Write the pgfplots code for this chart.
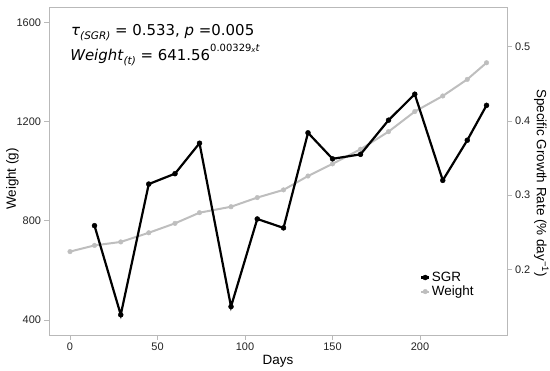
\documentclass[border=0pt]{standalone}
\usepackage{pgfplots}
\pgfplotsset{compat=1.18}
\usepackage{fontspec}
\setmainfont{Liberation Sans}
\newfontfamily\dv{DejaVu Sans}
\definecolor{axgray}{RGB}{185,185,185}
\definecolor{wgray}{RGB}{190,190,190}
\definecolor{txt}{RGB}{35,35,35}
\begin{document}
\begin{tikzpicture}
\useasboundingbox (-49bp,-36bp) rectangle (501bp,335bp);
\pgfplotsset{
  every axis/.append style={
    scale only axis, width=458bp, height=328bp, at={(0,0)}, anchor=south west,
    xmin=-12, xmax=249.7,
    axis line style={axgray, line width=0.9bp},
    tick style={axgray, line width=0.8bp},
    major tick length=4.5bp,
    tick align=outside,
    /pgf/number format/assume math mode=true,
    tick label style={font=\fontsize{11}{13}\selectfont, text=txt},
    label style={font=\fontsize{13.5}{16}\selectfont, text=black},
  }}
\begin{axis}[
  ymin=339.5, ymax=1663,
  ytick={400,800,1200,1600},
  xtick={0,50,100,150,200},
  xtick pos=lower, ytick pos=left,
  xlabel={Days}, ylabel={Weight (g)},
  xlabel style={yshift=2bp},
  ylabel style={yshift=-9bp, xshift=-8bp},
  /pgf/number format/1000 sep={},
]
\addplot[wgray, line width=2bp, mark=*, mark size=2.3bp, mark options={solid, fill=wgray, draw=wgray, line width=0.4bp}] coordinates {
(0,676) (14,701) (29,715) (45,752) (60,790) (74,833) (92,857) (107,894) (122,925) (136,981) (150,1030) (166,1089) (182,1160) (197,1241) (213,1304) (227,1371) (238,1438)};
\node[anchor=base west, inner sep=0pt, font=\dv\fontsize{15}{17}\selectfont] at (rel axis cs:0.048,0.912)
  {\textit{τ}\raisebox{-0.45ex}{\fontsize{10.5}{12}\selectfont\textit{(SGR)}} = 0.533, \textit{p} =0.005};
\node[anchor=base west, inner sep=0pt, font=\dv\fontsize{15}{17}\selectfont] at (rel axis cs:0.046,0.838)
  {\textit{Weight}\raisebox{-0.5ex}{\fontsize{10.5}{12}\selectfont\textit{(t)}} = 641.56\raisebox{1.1ex}{\fontsize{10}{12}\selectfont 0.00329\raisebox{-0.3ex}{\fontsize{7}{8}\selectfont\textit{x}}\textit{t}}};
\end{axis}
\begin{axis}[
  ymin=0.1118, ymax=0.5534,
  ytick={0.2,0.3,0.4,0.5},
  hide x axis,
  axis y line*=right,
  ylabel={Specific Growth Rate (\% day\textsuperscript{−1})},
  ylabel style={rotate=180, xshift=12bp, yshift=-3bp},
  /pgf/number format/fixed, /pgf/number format/precision=1,
  legend style={draw=none, fill=none, at={(rel axis cs:0.81,0.197)}, anchor=north west,
    font=\fontsize{13.5}{15}\selectfont, row sep=0bp, inner sep=0pt,
    nodes={inner sep=1.5bp}},
  legend cell align=left,
  legend image code/.code={\draw[mark repeat=2,mark phase=2,#1] plot coordinates {(0bp,0bp) (4bp,0bp) (8bp,0bp)};},
]
\addplot[black, line width=2.2bp, mark=*, mark size=2.5bp, mark options={solid, fill=black, line width=0.4bp}] coordinates {
(14,0.259) (29,0.139) (45,0.315) (60,0.329) (74,0.370) (92,0.150) (107,0.268) (122,0.256) (136,0.384) (150,0.349) (166,0.355) (182,0.401) (197,0.436) (213,0.320) (227,0.374) (238,0.421)};
\addlegendentry{SGR}
\addlegendimage{wgray, line width=2bp, mark=*, mark size=2.3bp, mark options={solid, fill=wgray, draw=wgray, line width=0.4bp}}
\addlegendentry{Weight}
\end{axis}
\end{tikzpicture}
\end{document}
